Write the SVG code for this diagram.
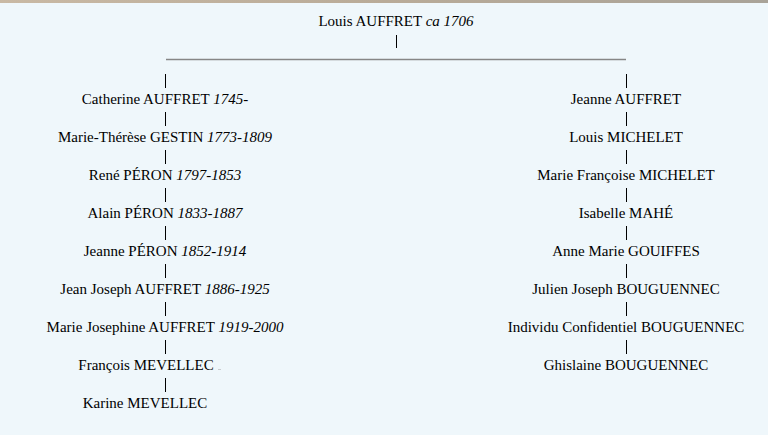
<svg xmlns="http://www.w3.org/2000/svg" width="768" height="435" viewBox="0 0 768 435">
<defs>
<linearGradient id="band" x1="0" y1="0" x2="1" y2="0">
<stop offset="0" stop-color="#c9b9a4"/>
<stop offset="0.5" stop-color="#b9ab98"/>
<stop offset="1" stop-color="#a9a398"/>
</linearGradient>
<style>
.t{font-family:'Liberation Serif','Times New Roman',serif;font-size:15px;fill:#000;text-anchor:middle}
.d{font-style:italic}
.bar{stroke:#000;stroke-width:1}
.hr{stroke:#868686;stroke-width:1.5}
</style>
</defs>
<rect width="768" height="435" fill="#EFF7FB"/>
<rect width="768" height="3" fill="url(#band)"/>
<g id="connectors">
<line class="bar" x1="396.5" y1="35" x2="396.5" y2="48"/>
<line class="hr" x1="166" y1="59.5" x2="626" y2="59.5"/>
<line class="bar" x1="165.5" y1="74" x2="165.5" y2="88"/>
<line class="bar" x1="165.5" y1="112" x2="165.5" y2="126"/>
<line class="bar" x1="165.5" y1="150" x2="165.5" y2="164"/>
<line class="bar" x1="165.5" y1="188" x2="165.5" y2="202"/>
<line class="bar" x1="165.5" y1="226" x2="165.5" y2="240"/>
<line class="bar" x1="165.5" y1="264" x2="165.5" y2="278"/>
<line class="bar" x1="165.5" y1="302" x2="165.5" y2="316"/>
<line class="bar" x1="165.5" y1="340" x2="165.5" y2="354"/>
<line class="bar" x1="165.5" y1="378" x2="165.5" y2="392"/>
<line class="bar" x1="626.5" y1="74" x2="626.5" y2="88"/>
<line class="bar" x1="626.5" y1="112" x2="626.5" y2="126"/>
<line class="bar" x1="626.5" y1="150" x2="626.5" y2="164"/>
<line class="bar" x1="626.5" y1="188" x2="626.5" y2="202"/>
<line class="bar" x1="626.5" y1="226" x2="626.5" y2="240"/>
<line class="bar" x1="626.5" y1="264" x2="626.5" y2="278"/>
<line class="bar" x1="626.5" y1="302" x2="626.5" y2="316"/>
<line class="bar" x1="626.5" y1="340" x2="626.5" y2="354"/>
</g>
<g id="root"><text class="t" x="396" y="26">Louis AUFFRET <tspan class="d">ca 1706</tspan></text></g>
<g id="l1"><text class="t" x="165" y="104">Catherine AUFFRET <tspan class="d">1745-</tspan></text></g>
<g id="l2"><text class="t" x="165" y="142">Marie-Thérèse GESTIN <tspan class="d">1773-1809</tspan></text></g>
<g id="l3"><text class="t" x="165" y="180">René PÉRON <tspan class="d">1797-1853</tspan></text></g>
<g id="l4"><text class="t" x="165" y="218">Alain PÉRON <tspan class="d">1833-1887</tspan></text></g>
<g id="l5"><text class="t" x="165" y="256">Jeanne PÉRON <tspan class="d">1852-1914</tspan></text></g>
<g id="l6"><text class="t" x="165" y="294">Jean Joseph AUFFRET <tspan class="d">1886-1925</tspan></text></g>
<g id="l7"><text class="t" x="165" y="332">Marie Josephine AUFFRET <tspan class="d">1919-2000</tspan></text></g>
<g id="l8"><text class="t" x="146" y="370">François MEVELLEC</text><rect x="218" y="369" width="3" height="1" fill="#c8ccd0"/></g>
<g id="l9"><text class="t" x="145" y="408">Karine MEVELLEC</text></g>
<g id="r1"><text class="t" x="626" y="104">Jeanne AUFFRET</text></g>
<g id="r2"><text class="t" x="626" y="142">Louis MICHELET</text></g>
<g id="r3"><text class="t" x="626" y="180">Marie Françoise MICHELET</text></g>
<g id="r4"><text class="t" x="626" y="218">Isabelle MAHÉ</text></g>
<g id="r5"><text class="t" x="626" y="256">Anne Marie GOUIFFES</text></g>
<g id="r6"><text class="t" x="626" y="294">Julien Joseph BOUGUENNEC</text></g>
<g id="r7"><text class="t" x="626" y="332">Individu Confidentiel BOUGUENNEC</text></g>
<g id="r8"><text class="t" x="626" y="370">Ghislaine BOUGUENNEC</text></g>
</svg>
